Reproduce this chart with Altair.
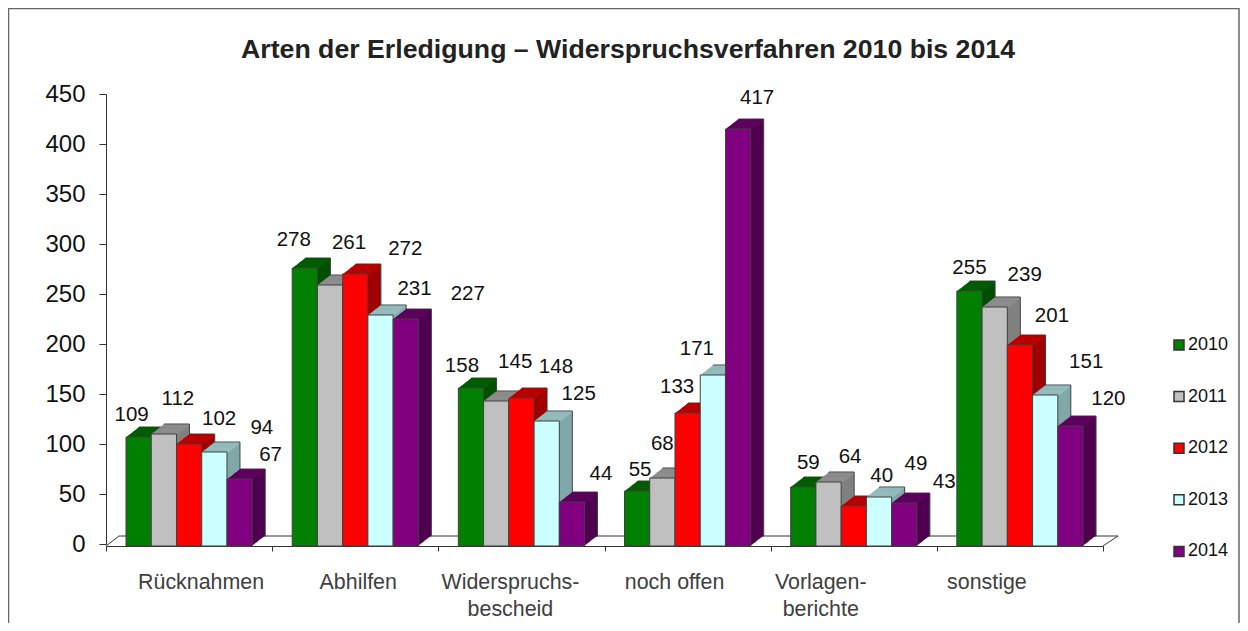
import altair as alt
import pandas as pd

categories = ["Rücknahmen", "Abhilfen", "Widerspruchs-\nbescheid", "noch offen", "Vorlagen-\nberichte", "sonstige"]
years = ["2010", "2011", "2012", "2013", "2014"]
v2010 = [109, 278, 158, 55, 59, 255]
v2011 = [112, 261, 145, 68, 64, 239]
v2012 = [102, 272, 148, 133, 40, 201]
v2013 = [94, 231, 125, 171, 49, 151]
v2014 = [67, 227, 44, 417, 43, 120]
series = [v2010, v2011, v2012, v2013, v2014]
title_text = "Arten der Erledigung – Widerspruchsverfahren 2010 bis 2014"

front = ["#008000", "#C0C0C0", "#FF0000", "#CCFFFF", "#800080"]
top = ["#006000", "#909090", "#C00000", "#99C0C0", "#600060"]
side = ["#005000", "#808080", "#A00000", "#80A8A8", "#500050"]

FONT = "Liberation Sans"
DEPTH = 13
SLOPE = 10 / 13
BASE = 2
PX = 1 / 166.17      # one pixel in units of the category axis
GAP = 0.1204         # space before the first bar of a category
BAR = 0.1519         # width of a bar

rows = [{"g": i, "s": j, "year": y, "v": sv[i]}
        for j, (y, sv) in enumerate(zip(years, series)) for i in range(len(categories))]
df = pd.DataFrame(rows)

x_axis = alt.Axis(title=None, labels=False, values=list(range(7)), tickSize=5, offset=BASE,
                  domainColor="#333333", tickColor="#333333", grid=False)
y_axis = alt.Axis(title=None, values=list(range(0, 451, 50)), tickSize=7, labelPadding=14,
                  labelFontSize=24, labelFont=FONT, labelColor="#111111",
                  domainColor="#333333", tickColor="#333333", grid=False)
x_scale = alt.Scale(domain=[0, 6], nice=False, zero=False)
y_scale = alt.Scale(domain=[0, 450], nice=False)
X = alt.X("left:Q", scale=x_scale, axis=x_axis)
Y = alt.Y("vtop:Q", scale=y_scale, axis=y_axis)


def rule(x1, x2, y1, y2, color="#333333", w=1.0):
    return alt.Chart(alt.Data(values=[{"a": 1}])).mark_rule(color=color, strokeWidth=w).encode(
        x=alt.value(x1), x2=alt.value(x2), y=alt.value(y1), y2=alt.value(y2))


def slab(k, thickness=None):
    """calculated corners of a bar pushed back k pixels into the depth"""
    bottom = f"datum.vtop - {thickness}" if thickness else f"{k * SLOPE - BASE}"
    return [
        {"calculate": f"datum.g + {GAP} + datum.s * {BAR} + {k * PX}", "as": "left"},
        {"calculate": f"datum.g + {GAP} + (datum.s + 1) * {BAR} + {k * PX}", "as": "right"},
        {"calculate": f"datum.v + {k * SLOPE - BASE}", "as": "vtop"},
        {"calculate": bottom, "as": "vbottom"},
    ]


def face(k, colors, thickness=None, legend=None, **mark):
    c = alt.Chart()
    for t in slab(k, thickness):
        c = c.transform_calculate(**{t["as"]: t["calculate"]})
    return c.mark_rect(**mark).encode(
        x=X, x2="right:Q", y=Y, y2="vbottom:Q",
        fill=alt.Fill("year:N", scale=alt.Scale(domain=years, range=colors), legend=legend))


layers = [
    # chart frame
    rule(-97.5, -97.5, -90, 600, "#666666", 1.5),
    rule(-97.5, 1133, -85.5, -85.5, "#666666", 1.5),
    rule(1133, 1133, -90, 600, "#666666", 1.5),
    # floor of the 3D plot
    rule(13, 1012, 442, 442),
    rule(0, 13, 452, 442),
    rule(997, 1012, 452, 442),
]

# depth of the bars, painted from back to front
for k in range(DEPTH, 0, -1):
    kw = dict(stroke="#404040", strokeWidth=1) if k == DEPTH else {}
    layers.append(face(k, side, **kw))
    if k < DEPTH:
        layers.append(face(k, top, thickness=1.6))

# front faces and the legend
layers.append(face(0, front, stroke="#404040", strokeWidth=1, legend=alt.Legend(
    title=None, orient="none", legendX=1064, legendY=242,
    symbolType="square", symbolSize=100, symbolStrokeColor="#333333", symbolStrokeWidth=1.5,
    rowPadding=33.6, labelFontSize=18, labelFont=FONT, labelColor="#111111", labelOffset=0)))

# value label offsets from the top of each bar, per category then per year
label_offsets = {
    0: [(-7, -20.5), (14, -33.5), (30, -23.5), (47.5, -22.5), (31, -22.5)],
    1: [(-11, -26.5), (19, -40.5), (50, -23.5), (34, -24.5), (62, -23.5)],
    2: [(-9, -20.5), (19, -37.5), (34.5, -29.5), (32, -25.5), (29, -26.5)],
    3: [(3, -19.5), (0, -32.5), (-10.5, -24.5), (-16, -24.5), (19, -29.5)],
    4: [(5, -22.5), (21.5, -23.5), (28, -28.5), (37, -31.5), (40, -19.5)],
    5: [(0, -21.5), (30, -30.5), (32, -27.5), (41, -31.5), (38, -25.5)],
}
for ci, offs in label_offsets.items():
    for yi, (dx, dy) in enumerate(offs):
        layers.append(
            alt.Chart().transform_filter(
                f"datum.g === {ci} && datum.s === {yi}"
            ).transform_calculate(
                left=f"datum.g + {GAP} + (datum.s + 0.5) * {BAR}", vtop="datum.v"
            ).mark_text(font=FONT, fontSize=20.5, color="#111111", dx=dx, dy=dy, baseline="middle").encode(
                x=X, y=Y, text="v:Q")
        )

# category labels, shifted from the category centres as in the reference
cat_shift = [12, 3, -11, -13, -33, -33]
for i, (c, dx) in enumerate(zip(categories, cat_shift)):
    layers.append(
        alt.Chart(alt.Data(values=[{"name": c, "left": i + 0.5}])).mark_text(
            font=FONT, fontSize=21.4, color="#404040", dx=dx, lineBreak="\n", lineHeight=26.5,
            baseline="alphabetic", align="center").encode(
            x=X, y=alt.value(495), text="name:N")
    )

# chart title
layers.append(
    alt.Chart(alt.Data(values=[{"t": title_text}])).mark_text(
        font=FONT, fontSize=26.7, fontWeight="bold", color="#222222", baseline="middle", align="center"
    ).encode(x=alt.value(522), y=alt.value(-44), text="t:N")
)

chart = alt.layer(*layers, data=df).resolve_scale(fill="independent").properties(
    width=997, height=450,
    padding={"left": 98, "top": 86, "right": 137, "bottom": 79},
    autosize=alt.AutoSizeParams(type="none"),
    background="white",
).configure_view(stroke=None)

chart.save("out.html", embed_options={"renderer": "svg", "actions": False})
